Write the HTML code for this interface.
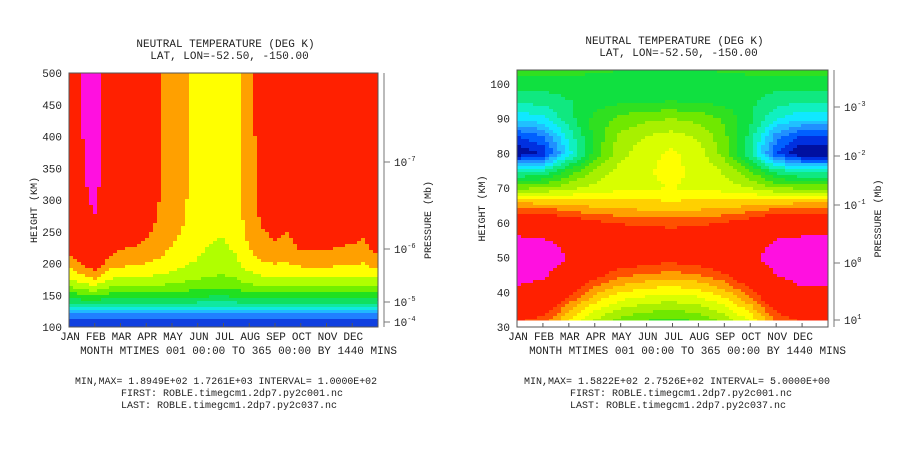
<!DOCTYPE html>
<html><head><meta charset="utf-8"><style>
body{margin:0;background:#fff;width:900px;height:450px;overflow:hidden}
svg{display:block}
text{font-family:"Liberation Mono",monospace;fill:#222}
</style></head><body>
<svg id="s" width="900" height="450" xmlns="http://www.w3.org/2000/svg">
<g id="L"></g>
<g id="R"></g>
</svg>
<script>
// ---- left data (thermosphere) ----
const leftTinfDays=[1,16,31,46,60,75,91,106,121,136,152,167,182,197,213,228,244,259,274,289,305,320,335,350,365];
const leftTinf=[1500,1600,1680,1550,1450,1420,1380,1320,1260,1220,1170,1130,1120,1150,1260,1340,1380,1350,1440,1450,1450,1420,1400,1370,1500];
const leftLevels=[300,400,500,600,700,800,900,1000,1100,1200,1300,1600];
const leftColors=["#1040e0","#2080ff","#20b8ff","#10e8e0","#10e8a0","#10e060","#20e020","#70f000","#b0ff00","#ffff00","#ffa000","#ff2000","#ff10e0"];
// ---- right data (middle atmosphere) ----
const rightHeights=[30,35,40,45,50,55,60,65,70,75,80,85,90,95,100,105];
const rightSummer=[243,252,262,270,276,268,255,238,214,192,160,170,186,196,202,210];
const rightWinter=[205,215,226,238,248,250,243,232,225,226,226,222,215,205,203,205];
const rightMonthDays=[1,32,60,91,121,152,182,213,244,274,305,335,365];
const rightSummerWeight=[1,0.9,0.6,0.3,0.12,0.04,0,0.05,0.2,0.45,0.85,1,1];
const rightLevels=[165,170,175,180,185,190,195,200,205,210,215,220,225,230,235,240,245,265];
const rightColors=["#0010a0","#0030e0","#0060ff","#2090ff","#20c0ff","#10e8ff","#10f0c0","#10e880","#10e040","#30e020","#70e800","#a8f000","#d8ff00","#ffff00","#ffd000","#ffa000","#ff5000","#ff2000","#ff10e0"];
const months=["JAN","FEB","MAR","APR","MAY","JUN","JUL","AUG","SEP","OCT","NOV","DEC"];

const NS="http://www.w3.org/2000/svg";
function el(tag,attrs,parent,txt){const e=document.createElementNS(NS,tag);for(const k in attrs)e.setAttribute(k,attrs[k]);if(txt!==undefined)e.textContent=txt;parent.appendChild(e);return e;}
function interp(xs,ys,x){if(x<=xs[0])return ys[0];for(let i=1;i<xs.length;i++){if(x<=xs[i]){const f=(x-xs[i-1])/(xs[i]-xs[i-1]);return ys[i-1]+f*(ys[i]-ys[i-1]);}}return ys[ys.length-1];}
function colorOf(v,levels,colors){let i=0;while(i<levels.length&&v>=levels[i])i++;return colors[i];}

function leftT(day,h){const Ti=interp(leftTinfDays,leftTinf,day);
 if(h<120)return 190+(h-100)*9.5;const T120=380;const s=0.018+Math.max(0,1500-Ti)*0.00003;
 return Ti-(Ti-T120)*Math.exp(-s*(h-120));}
function rightT(day,h){const w=interp(rightMonthDays,rightSummerWeight,day);
 return w*interp(rightHeights,rightSummer,h)+(1-w)*interp(rightHeights,rightWinter,h);}

function panel(g,o){
 const xS=d=>o.x0+(d-1)/365*(o.x1-o.x0);
 const yS=h=>o.y0-(h-o.hmin)/(o.hmax-o.hmin)*(o.y0-o.yAxTop);
 const cw=4,ch=3;
 const grid=el('g',{},g);
 
 
 for(let px=o.x0;px<o.x1;px+=cw){
  for(let py=o.yTop;py<o.yFill;py+=ch){
   const day=1+(px+cw/2-o.x0)/(o.x1-o.x0)*365;
   const h=o.hmin+(o.y0-(py+ch/2))/(o.y0-o.yAxTop)*(o.hmax-o.hmin);
   const v=o.f(day,h);
   const r=el('rect',{x:px,y:py,width:Math.min(cw,o.x1-px)+0.5,height:Math.min(ch,o.yFill-py)+0.5,fill:colorOf(v,o.levels,o.colors)},grid);
   
   
  }
 }
 el('rect',{x:o.x0,y:o.yTop,width:o.x1-o.x0,height:o.y0-o.yTop,fill:'none',stroke:'#555','stroke-width':1},g);
 el('line',{x1:o.x1+6,y1:o.yTop,x2:o.x1+6,y2:o.y0,stroke:'#777'},g);
 o.press.forEach(p=>{el('line',{x1:o.x1+6,y1:p[1],x2:o.x1+12,y2:p[1],stroke:'#777'},g);
  const t=el('text',{x:o.x1+16,y:p[1]+4,'font-size':11},g,'10');el('tspan',{dy:-5,'font-size':7},t,p[0]);
  });
 const pl=el('text',{x:0,y:0,'font-size':10,transform:`translate(${o.x1+53},${(o.yTop+o.y0)/2+20}) rotate(-90)`,'text-anchor':'middle',fill:'#666'},g,'PRESSURE (Mb)');
 
 o.hticks.forEach(h=>{const t=el('text',{x:o.x0-7,y:yS(h)+4,'font-size':11,'text-anchor':'end'},g,String(h));
  });
 const yt=el('text',{x:0,y:0,'font-size':10,transform:`translate(${o.x0-32},${(o.yTop+o.y0)/2+10}) rotate(-90)`,'text-anchor':'middle'},g,'HEIGHT (KM)');
 
 months.forEach((m,i)=>{const t=el('text',{x:o.x0+1+i*(o.x1-o.x0)/12,y:o.y0+13,'font-size':11,'text-anchor':'middle'},g,m);
  
  el('line',{x1:xS(1+i*365/12),y1:o.y0,x2:xS(1+i*365/12),y2:o.y0-4,stroke:'#555'},g);});
 const xt=el('text',{x:(o.x0+o.x1)/2+15,y:o.y0+27,'font-size':11,'text-anchor':'middle'},g,'MONTH MTIMES 001 00:00 TO 365 00:00 BY 1440 MINS');
 
 const t1=el('text',{x:(o.x0+o.x1)/2+2,y:o.yTop-26,'font-size':11,'text-anchor':'middle'},g,'NEUTRAL TEMPERATURE (DEG K)');
 
 const t2=el('text',{x:(o.x0+o.x1)/2+6,y:o.yTop-14,'font-size':11,'text-anchor':'middle'},g,'LAT, LON=-52.50,  -150.00');
 
 const f1=el('text',{x:o.fx,y:384,'font-size':10,textLength:o.fl,lengthAdjust:'spacingAndGlyphs'},g,o.minmax);
 
 const f2=el('text',{x:o.fx+46,y:396,'font-size':10},g,'FIRST: ROBLE.timegcm1.2dp7.py2c001.nc');
 
 const f3=el('text',{x:o.fx+46,y:408,'font-size':10},g,'LAST:  ROBLE.timegcm1.2dp7.py2c037.nc');
 
}
panel(document.getElementById('L'),{x0:69,x1:378,yTop:73,y0:327,yAxTop:73,yFill:327,hmin:100,hmax:500,f:leftT,levels:leftLevels,colors:leftColors,
 hticks:[100,150,200,250,300,350,400,450,500],press:[['-7',162],['-6',249],['-5',302],['-4',322]],fx:75,fl:302,
 minmax:'MIN,MAX=  1.8949E+02  1.7261E+03 INTERVAL=  1.0000E+02'});
panel(document.getElementById('R'),{x0:517,x1:828,yTop:70,y0:327,yAxTop:84,yFill:320,hmin:30,hmax:100,f:rightT,levels:rightLevels,colors:rightColors,
 hticks:[30,40,50,60,70,80,90,100],press:[['-3',107],['-2',156],['-1',205],['0',263],['1',320]],fx:524,fl:306,
 minmax:'MIN,MAX=  1.5822E+02  2.7526E+02 INTERVAL=  5.0000E+00'});
</script>
</body></html>
